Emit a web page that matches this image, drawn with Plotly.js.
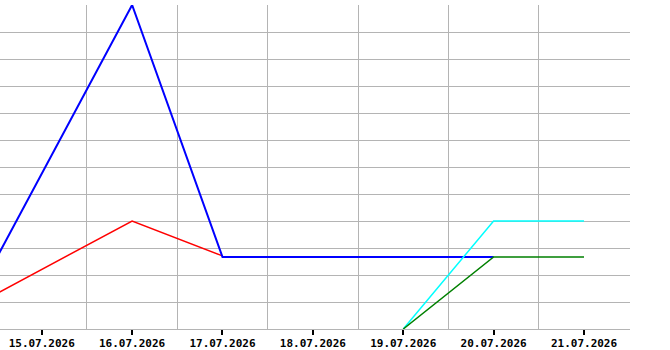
<!DOCTYPE html>
<html>
<head>
<meta charset="utf-8">
<script src="https://cdn.plot.ly/plotly-3.0.1.min.js"></script>
<style>html,body{margin:0;padding:0;background:#fff;}#chart{width:670px;height:350px;}</style>
</head>
<body>
<div id="chart"></div>
<script>
// Data (arbitrary units, y axis unlabeled)
const blueDates  = ['2026-07-14', '2026-07-16', '2026-07-17', '2026-07-18', '2026-07-19', '2026-07-20'];
const blueValues = [-0.37, 9, 2, 2, 2, 2];
const redDates   = ['2026-07-14', '2026-07-16', '2026-07-17'];
const redValues  = [0.31, 3, 2.03];
const cyanDates  = ['2026-07-19', '2026-07-20', '2026-07-21'];
const cyanValues = [0, 3, 3];
const greenDates = ['2026-07-19', '2026-07-20', '2026-07-21'];
const greenValues = [0, 2, 2];
const tickDates = ['2026-07-15', '2026-07-16', '2026-07-17', '2026-07-18', '2026-07-19', '2026-07-20', '2026-07-21'];

const traces = [
  {x: redDates, y: redValues, mode: 'lines', line: {color: '#ff0000', width: 1.5}, hoverinfo: 'skip'},
  {x: blueDates, y: blueValues, mode: 'lines', line: {color: '#0000ff', width: 2}, hoverinfo: 'skip'},
  {x: cyanDates, y: cyanValues, mode: 'lines', line: {color: '#00ffff', width: 1.5}, hoverinfo: 'skip'},
  {x: greenDates, y: greenValues, mode: 'lines', line: {color: '#008000', width: 1.5}, hoverinfo: 'skip'}
];

const layout = {
  width: 670, height: 350,
  margin: {l: 0, r: 40, t: 5, b: 21, pad: 0},
  paper_bgcolor: '#ffffff', plot_bgcolor: '#ffffff',
  showlegend: false,
  xaxis: {
    type: 'date',
    range: ['2026-07-14 12:55', '2026-07-21 12:13'],
    tickmode: 'array', tickvals: tickDates, tickformat: '%d.%m.%Y',
    ticks: 'outside', ticklen: 5, tickwidth: 2, tickcolor: '#000000',
    ticklabelstandoff: -1,
    tickfont: {family: 'DejaVu Sans Mono', size: 11, color: '#000000', weight: 'bold'},
    showgrid: false,
    minor: {tickmode: 'linear', tick0: '2026-07-14 12:00', dtick: 86400000, showgrid: true, gridcolor: '#b4b4b4', gridwidth: 1, ticks: ''},
    showline: true, linecolor: '#b4b4b4', linewidth: 1,
    zeroline: false, fixedrange: true
  },
  yaxis: {
    range: [0, 9], tickmode: 'linear', tick0: 0, dtick: 0.75,
    showticklabels: false, ticks: '',
    showgrid: true, gridcolor: '#b4b4b4', gridwidth: 1,
    zeroline: false, showline: false, fixedrange: true
  }
};

Plotly.newPlot('chart', traces, layout, {displayModeBar: false, staticPlot: true});
</script>
</body>
</html>
